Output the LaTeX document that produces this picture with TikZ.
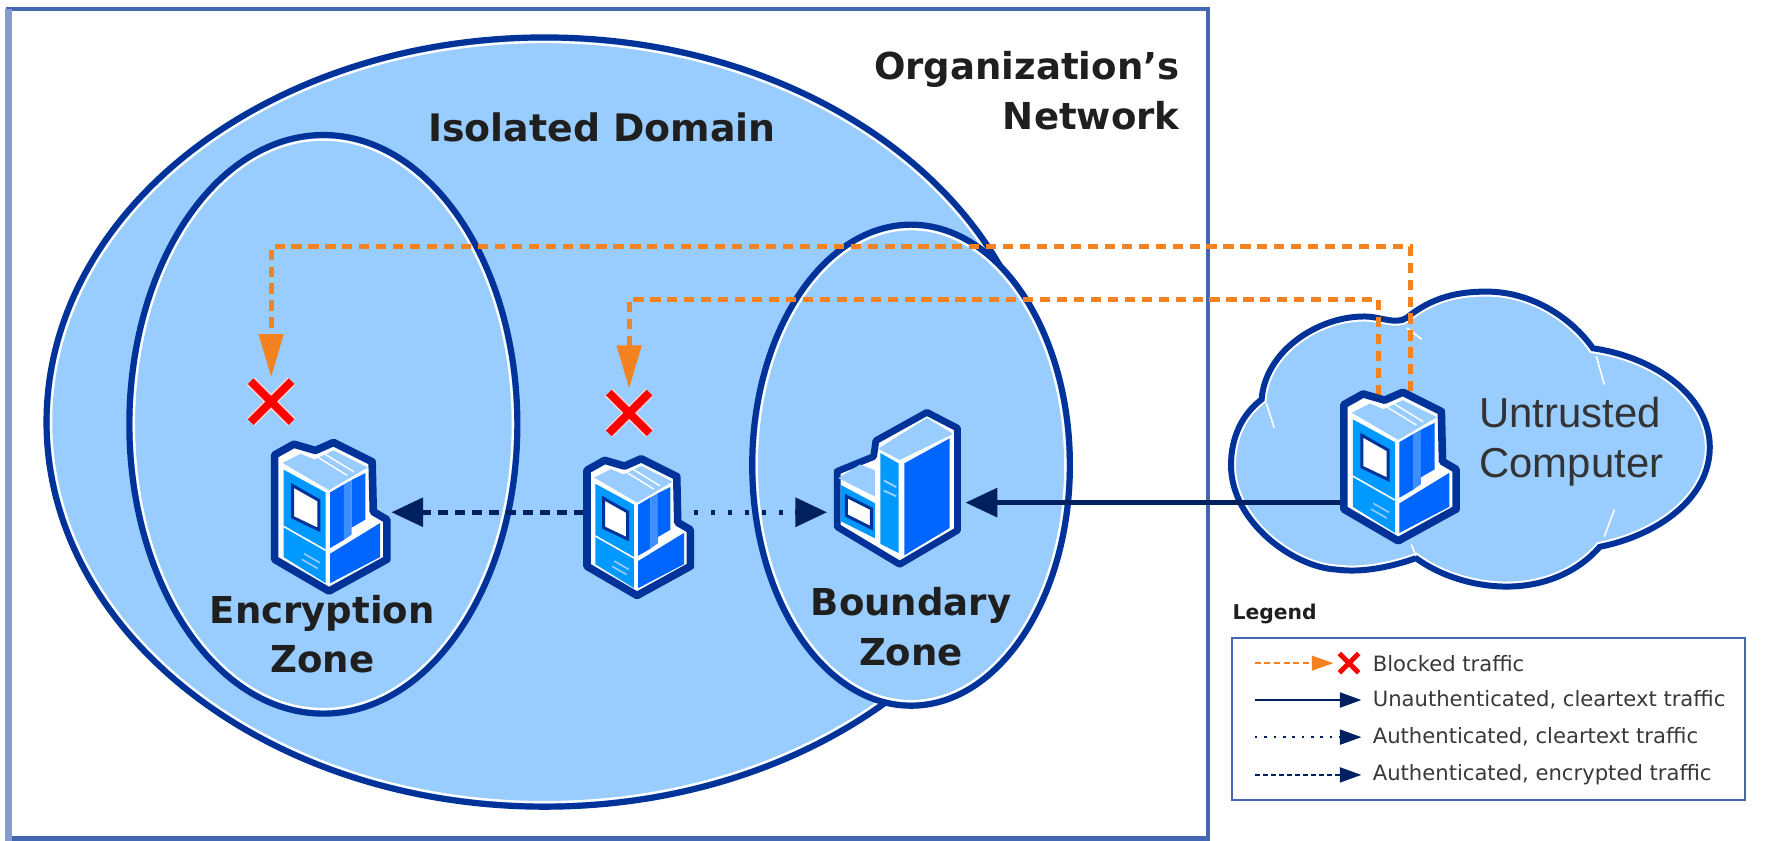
\documentclass[tikz,border=0pt]{standalone}
\usepackage{fontspec}
\setmainfont{DejaVu Sans}
\newfontfamily\cloudfont{Liberation Sans}
\usetikzlibrary{arrows.meta}
\usetikzlibrary{shapes.misc}
\definecolor{zoneblue}{HTML}{99CCFF}
\definecolor{ringblue}{HTML}{003399}
\definecolor{frameblue}{HTML}{4466B3}
\definecolor{arrowblue}{HTML}{002060}
\definecolor{blockorange}{HTML}{F58220}
\definecolor{faceleft}{HTML}{0099FF}
\definecolor{faceright}{HTML}{0066FF}
\newcommand{\zonering}[3]{
	\fill[zoneblue] (#1) ellipse [x radius=#2,y radius=#3];
	\draw[white,line width=1.2pt] (#1) ellipse [x radius=#2-5,y radius=#3-5];
	\draw[ringblue,line width=3.1pt] (#1) ellipse [x radius=#2-1,y radius=#3-1];
}
\newcommand{\cloudpath}{
	(1240,280) .. controls (1262,262) and (1285,257) .. (1310,257)
	.. controls (1350,257) and (1385,280) .. (1404,307)
	.. controls (1460,315) and (1507,350) .. (1507,394)
	.. controls (1507,440) and (1460,472) .. (1410,482)
	.. controls (1390,505) and (1360,517) .. (1328,517)
	.. controls (1300,517) and (1270,508) .. (1248,492)
	.. controls (1225,500) and (1200,505) .. (1178,502)
	.. controls (1140,500) and (1085,460) .. (1085,410)
	.. controls (1085,385) and (1095,365) .. (1112,352)
	.. controls (1115,310) and (1160,280) .. (1200,279)
	.. controls (1215,278) and (1230,287) .. (1240,280) -- cycle
}
\tikzset{
	desktop/.pic = {

			\draw[ringblue,line width=3.8pt,fill=white,line join=round] (2,13) -- (19,3.5) -- (38,9) -- (54,2) -- (88,19) -- (89,63) -- (101,70) -- (101,105) -- (50,133) -- (2,105) -- cycle;
			\fill[zoneblue] (9,20) -- (25,12) -- (37,17) -- (54,9) -- (84,24) -- (50,44) -- cycle;
			\draw[white,line width=.7pt] (40,15) -- (66,31) (46,12) -- (72,28);
			\fill[faceleft] (10,26) -- (47,46) -- (47,126) -- (10,103) -- cycle;
			\fill[faceright] (51,46) -- (63,39) -- (63,88) -- (51,95) -- cycle;
			\fill[faceright!60!zoneblue] (63,39) -- (70,35) -- (70,83) -- (63,88) -- cycle;
			\fill[faceright] (70,35) -- (82,29) -- (82,70) -- (70,77) -- cycle;
			\fill[faceright] (51,100) -- (95,73) -- (95,103) -- (51,126) -- cycle;
			\draw[white,line width=.8pt] (10,76) -- (47,97);
			\draw[zoneblue,line width=.8pt] (28,100) -- (42,108) (26,105) -- (40,113);
			\draw[ringblue,line width=1.5pt,fill=white] (18,40) -- (41,53) -- (41,79) -- (18,68) -- cycle;

			}
}
\tikzset{
	tower/.pic = {

			\draw[ringblue,line width=3.4pt,fill=white,line join=round] (2,54) -- (34,41) -- (36,27) -- (81,2) -- (108,16) -- (108,106) -- (57,136) -- (2,103) -- cycle;
			\fill[zoneblue] (38,34) -- (81,7) -- (104,21) -- (57,44) -- cycle;
			\fill[faceleft] (40,38) -- (56,47) -- (56,126) -- (40,118) -- cycle;
			\fill[faceright] (61,47) -- (101,25) -- (101,104) -- (61,128) -- cycle;
			\fill[zoneblue] (3,60) -- (22,48) -- (35,53) -- (35,76) -- cycle;
			\fill[faceleft] (5,66) -- (35,82) -- (35,113) -- (5,98) -- cycle;
			\draw[ringblue,line width=1.5pt,fill=white] (10,76) -- (32,87) -- (32,104) -- (10,93) -- cycle;
			\draw[zoneblue,line width=1pt] (43,62) -- (54,68) (43,71) -- (54,76);

			}
}
\begin{document}
\begin{tikzpicture}
		[x=0.02cm,y=-0.02cm,
		hostnode/.style = {inner sep=0pt,outer sep=0pt,minimum height=1cm},
		blockmark/.style = {cross out,draw=white!85!red,double=red,double distance=4pt,line width=.7pt,inner sep=0pt,outer sep=0pt,minimum size=.72cm},
		legendmark/.style = {cross out,draw=red,line width=2.5pt,inner sep=0pt,outer sep=0pt,minimum size=.34cm},
		zonelabel/.style = {inner sep=0pt,text=black!88,align=center,font=\fontsize{18.6}{25}\selectfont\bfseries},
		cloudlabel/.style = {inner sep=0pt,text=black!80,align=left,font=\cloudfont\fontsize{21}{25}\selectfont},
		legendlabel/.style = {anchor=west,inner sep=0pt,outer sep=.2cm,text=black!78,font=\fontsize{10.6}{12}\selectfont},
		blocked/.style = {blockorange,line width=2.5pt,dash pattern=on 5.1pt off 3.4pt,-{Triangle[length=.76cm,width=.42cm]}},
		cleartext/.style = {arrowblue,line width=2.4pt,-{Triangle[length=.56cm,width=.5cm]}},
		authclear/.style = {arrowblue,line width=2.6pt,dash pattern=on 2.3pt off 6.2pt,-{Triangle[length=.56cm,width=.5cm]}},
		authcrypt/.style = {arrowblue,line width=2.6pt,dash pattern=on 5.1pt off 3.4pt,-{Triangle[length=.56cm,width=.5cm]}},
		legendtip/.style = {-{Triangle[length=.38cm,width=.26cm]}}
		]
		\useasboundingbox (0,0) rectangle (1568,741.2);
		% frame
		\draw[frameblue,line width=2.2pt] (7.5,8) rectangle (1064.5,739);
		\draw[frameblue!65,line width=3.4pt] (7.5,8) -- (7.5,741);

		% domain and zones
		\zonering{480,372}{440}{340}
		\zonering{285,374}{172}{256}
		\zonering{803,410}{141}{213}

		% cloud
		\fill[zoneblue] \cloudpath;
		\begin{scope}
			\clip \cloudpath;
			\draw[white,line width=5pt] \cloudpath;
		\end{scope}
		\draw[ringblue,line width=3pt] \cloudpath;
		\draw[white,line width=.8pt] (1407,314) -- (1414,339) (1423,449) -- (1414,473) (1116,355) -- (1123,377) (1240,289) -- (1253,299) (1244,480) -- (1248,490);

		% hosts
		\node[hostnode,minimum width=2.32cm] (enchost) at (287,451.5) {};
		\node[hostnode,minimum width=1.94cm] (midhost) at (563,451.5) {};
		\node[hostnode,minimum width=2.44cm] (serverhost) at (790,451.5) {};
		\node[hostnode,minimum width=2.04cm] (untrusted) at (1232,443) {};
		\node[blockmark] (blockenc) at (239,354) {};
		\node[blockmark] (blockmid) at (554.5,364) {};

		% traffic
		\coordinate (portenc) at (1243,345);
		\coordinate (railenc) at (700,217);
		\coordinate (portmid) at (1215,348);
		\coordinate (railmid) at (800,264);
		\draw[blocked,shorten >=2pt] (portenc) |- (railenc) -| (blockenc.north);
		\draw[blocked,shorten >=2pt] (portmid) |- (railmid) -| (blockmid.north);
		\draw[authcrypt] (midhost.west) -- (enchost.east);
		\draw[authclear] (midhost.east) -- (serverhost.west);
		\draw[cleartext] (untrusted.west) -- (untrusted.west -| serverhost.east);

		\pic at (240,388) {desktop};
		\pic[scale=.92] at (515.5,402.5) {desktop};
		\pic at (1182.4,343.7) {desktop};
		\pic at (736,361.4) {tower};

		% labels
		\node[zonelabel,align=right,anchor=east] (orglabel) at (1040,80) {Organization’s\\Network};
		\node[zonelabel,font=\fontsize{19}{25}\selectfont\bfseries] (domlabel) at (530.5,112) {Isolated Domain};
		\node[zonelabel] (enclabel) at (284,559) {Encryption\\Zone};
		\node[zonelabel] (bndlabel) at (803,552) {Boundary\\Zone};
		\node[cloudlabel] (cloudlabel) at (1385,389) {Untrusted\\Computer};

		% legend
		\node[zonelabel,font=\fontsize{10.2}{12}\selectfont\bfseries,anchor=west] (legtitle) at (1086,541) {Legend};
		\draw[frameblue,line width=1.2pt] (1086,562.5) rectangle (1538,705);
		\node[legendmark] (legx) at (1189,584.5) {};
		\node[legendlabel] (legblocked) at (1200,584.5) {Blocked traffic};
		\node[legendlabel] (legclear) at (1200,617) {Unauthenticated, cleartext traffic};
		\node[legendlabel] (legauth) at (1200,649.7) {Authenticated, cleartext traffic};
		\node[legendlabel] (legcrypt) at (1200,683) {Authenticated, encrypted traffic};
		\coordinate (startblocked) at (1106,584.5);
		\coordinate (startclear) at (1106,617);
		\coordinate (startauth) at (1106,649.7);
		\coordinate (startcrypt) at (1106,683);
		\draw[blockorange,line width=.9pt,dash pattern=on 3pt off 1.8pt,legendtip,shorten >=3pt] (startblocked) -- (legx.west);
		\draw[arrowblue,line width=1.4pt,legendtip] (startclear) -- (legclear.west);
		\draw[arrowblue,line width=1.3pt,dash pattern=on 1.3pt off 3.4pt,legendtip] (startauth) -- (legauth.west);
		\draw[arrowblue,line width=1.3pt,dash pattern=on 2.6pt off 1.4pt,legendtip] (startcrypt) -- (legcrypt.west);
	\end{tikzpicture}
\end{document}
